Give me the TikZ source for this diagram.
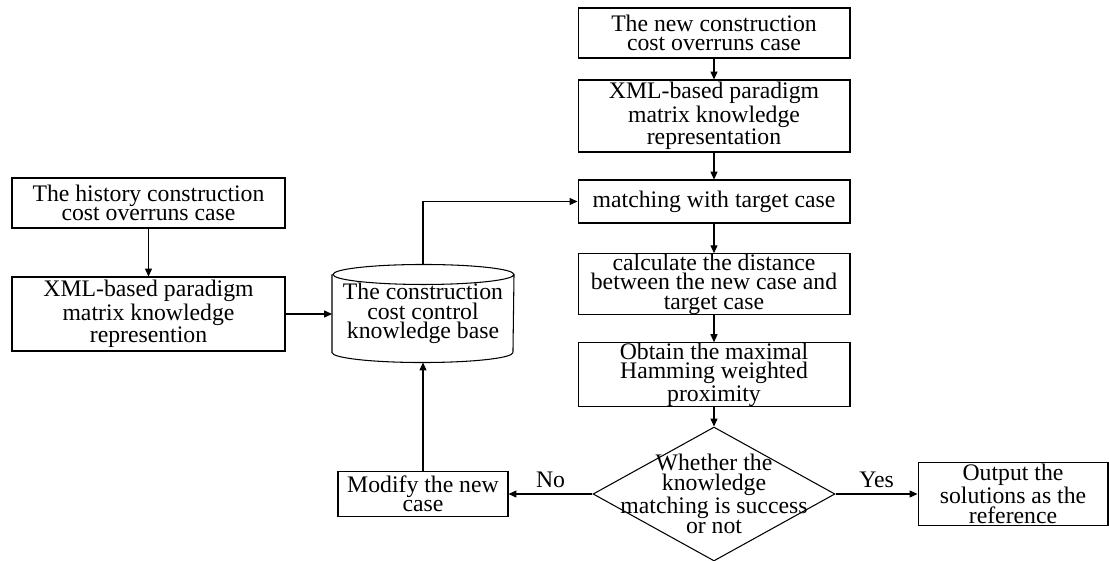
\documentclass[tikz,border=0pt]{standalone}
\usepackage{fontspec}
\setmainfont{Liberation Serif}
\usetikzlibrary{shapes.geometric,arrows.meta}

\begin{document}
\begin{tikzpicture}[x=0.02cm,y=-0.02cm,line width=0.6pt,
	font=\fontsize{13.5}{11.1}\selectfont,
	box/.style={draw,rectangle,align=center,inner sep=0pt},
	decision/.style={draw,diamond,inner sep=0pt},
	>={Triangle[length=4.5pt,width=4pt]}]
	\useasboundingbox (0,0) rectangle (1109,561);
	% history side
	\node[box,minimum width=5.46cm,minimum height=1cm] (histcase) at (148.5,203) {The history construction\\cost overruns case};
	\node[box,minimum width=5.46cm,minimum height=1.48cm] (histxml) at (148.5,314) {XML-based paradigm\\matrix knowledge\\represention};
	% knowledge base (cylinder)
	\node[align=center,inner sep=0pt,minimum width=3.62cm,minimum height=1.94cm] (kb) at (423,313.5) {The construction\\cost control\\knowledge base};
	\draw ([yshift=-0.2cm]kb.north west) -- ([yshift=0.2cm]kb.south west)
		arc[start angle=180,end angle=360,x radius=1.81cm,y radius=0.2cm]
		-- ([yshift=-0.2cm]kb.north east)
		arc[start angle=0,end angle=180,x radius=1.81cm,y radius=0.2cm]
		arc[start angle=180,end angle=360,x radius=1.81cm,y radius=0.2cm];
	% new case side
	\node[box,minimum width=5.44cm,minimum height=1cm] (newcase) at (714,33) {The new construction\\cost overruns case};
	\node[box,minimum width=5.44cm,minimum height=1.44cm] (newxml) at (714,116) {XML-based paradigm\\matrix knowledge\\representation};
	\node[box,minimum width=5.44cm,minimum height=0.86cm] (match) at (714,201.5) {matching with target case};
	\node[box,minimum width=5.44cm,minimum height=1.16cm] (dist) at (714,284) {calculate the distance\\between the new case and\\target case};
	\node[box,minimum width=5.44cm,minimum height=1.18cm] (prox) at (714,374.5) {Obtain the maximal\\Hamming weighted\\proximity};
	\node[decision,minimum width=4.84cm,minimum height=2.68cm,
		label={[align=center]center:Whether the\\knowledge\\matching is success\\or not}] (decide) at (714,494) {};
	\node[box,minimum width=3.4cm,minimum height=0.9cm] (modify) at (423,494) {Modify the new\\case};
	\node[box,minimum width=3.8cm,minimum height=1.26cm] (output) at (1013,494) {Output the\\solutions as the\\reference};
	% connectors
	\draw[->] (histcase) -- (histxml);
	\draw[->] (histxml) -- (histxml -| kb.west);
	\draw[->] (kb.north) |- (match);
	\draw[->] (newcase) -- (newxml);
	\draw[->] (newxml) -- (match);
	\draw[->] (match) -- (dist);
	\draw[->] (dist) -- (prox);
	\draw[->] (prox) -- (decide);
	\draw[->] (decide) -- node[above,inner sep=3pt]{No} (modify);
	\draw[->] (decide) -- node[above,inner sep=3pt]{Yes} (output);
	\draw[->] (modify) -- (kb.south);
\end{tikzpicture}
\end{document}
